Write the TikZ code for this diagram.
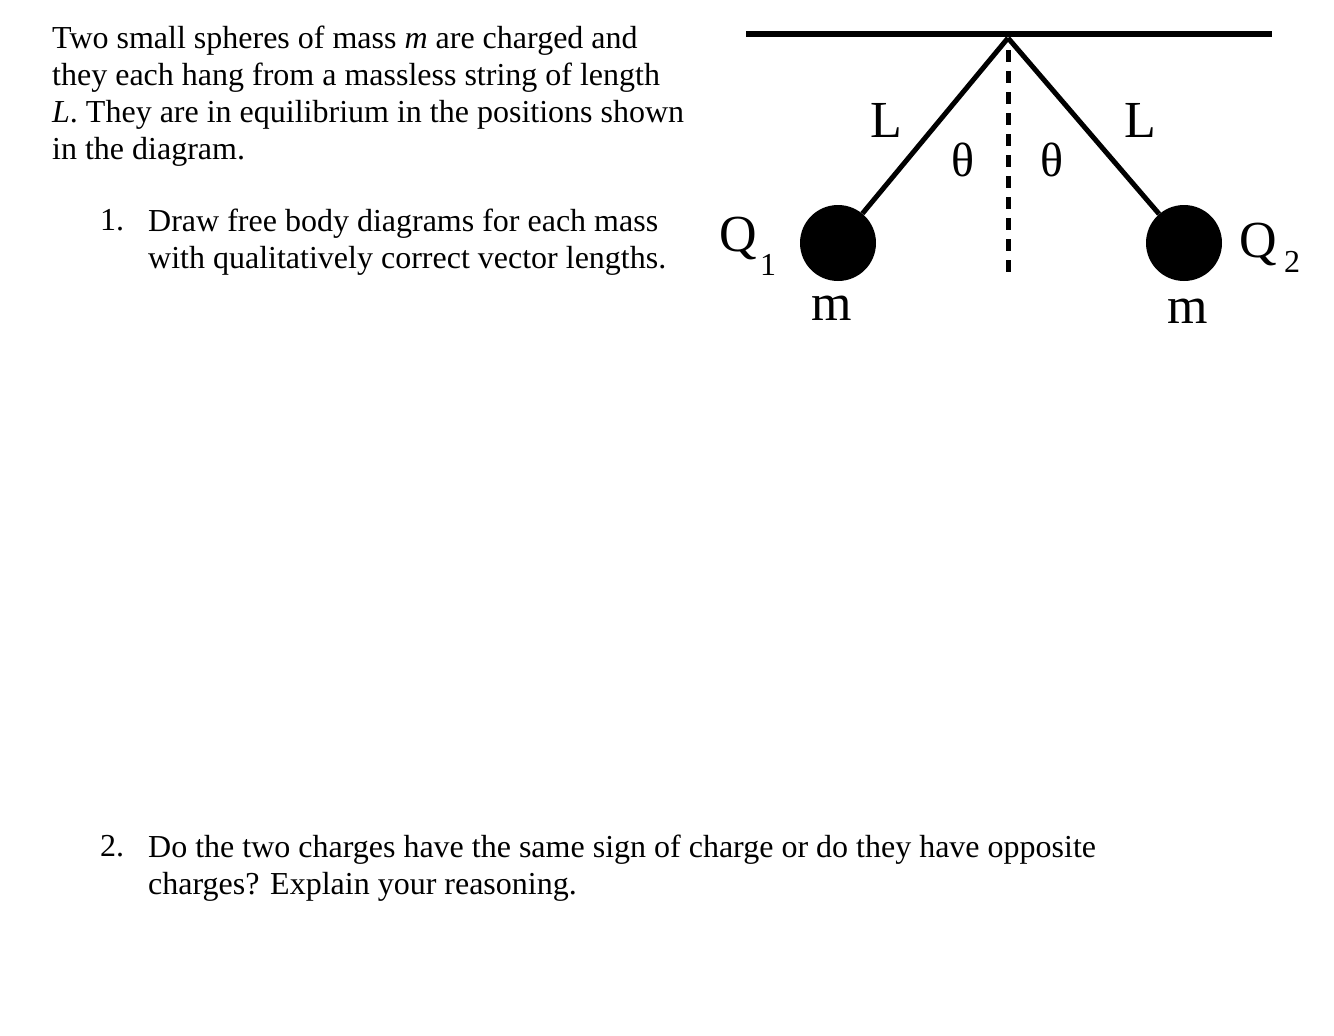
\documentclass[tikz,border=0pt]{standalone}
\usepackage{fontspec}
\setmainfont{Liberation Serif}
\begin{document}
\begin{tikzpicture}[x=1pt,y=-1pt,
  txt/.style={anchor=north west,inner sep=0pt,align=left,font=\fontsize{32}{37}\selectfont},
  lbl/.style={inner sep=0pt,font=\fontsize{52}{52}\selectfont},
  str/.style={line width=5pt},
  ball/.style={circle,fill=black,minimum size=76pt,inner sep=0pt}]
\useasboundingbox (0,0) rectangle (1334,1036);
\node[txt] (p) at (52,26) {Two small spheres of mass \textit{m} are charged and\\they each hang from a massless string of length\\\textit{L}. They are in equilibrium in the positions shown\\in the diagram.};
\node[txt] (n1) at (100,209) {1.};
\node[txt] (q1) at (148,209) {Draw free body diagrams for each mass\\with qualitatively correct vector lengths.};
\node[txt] (n2) at (100,835) {2.};
\node[txt] (q2) at (148,835) {Do the two charges have the same sign of charge or do they have opposite\\charges? Explain your reasoning.};
\coordinate (bl) at (746,34);
\coordinate (br) at (1272,34);
\coordinate (piv) at (1008,38);
\coordinate (db) at (1008,278);
\draw[line width=6pt] (bl) -- (br);
\draw[line width=5pt,dash pattern=on 12pt off 9pt] (1008,50) -- (db);
\node[ball] (b1) at (838,243) {};
\node[ball] (b2) at (1184,243) {};
\draw[str] (piv) -- (b1);
\draw[str] (piv) -- (b2);
\node[lbl] (L1) at (886,120) {L};
\node[lbl] (L2) at (1140,120) {L};
\node[lbl,font=\fontsize{48}{48}\selectfont] (t1) at (963,160) {θ};
\node[lbl,font=\fontsize{48}{48}\selectfont] (t2) at (1052,160) {θ};
\node[lbl] (Q1) at (738,238) {Q};
\node[lbl,font=\fontsize{32}{32}\selectfont] (s1) at (768,265) {1};
\node[lbl] (Q2) at (1258,244) {Q};
\node[lbl,font=\fontsize{32}{32}\selectfont] (s2) at (1292,262) {2};
\node[lbl] (m1) at (832,308) {m};
\node[lbl] (m2) at (1188,311) {m};
\end{tikzpicture}
\end{document}
